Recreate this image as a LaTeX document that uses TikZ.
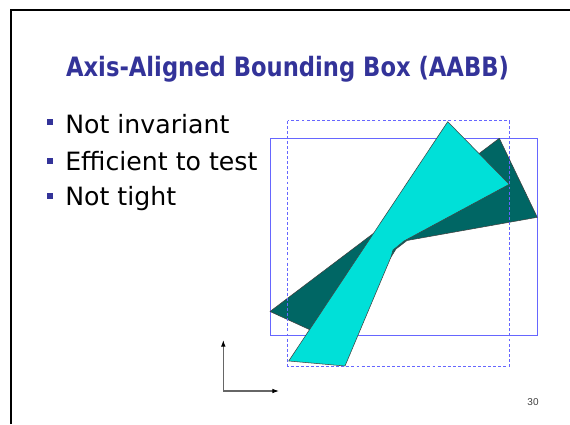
\documentclass[tikz,border=0pt]{standalone}
\usepackage{fontspec}
\setmainfont{DejaVu Sans}
\newfontfamily\titlefont[FakeStretch=0.85]{DejaVu Sans Bold}
\newfontfamily\numfont{Liberation Sans}
\usetikzlibrary{arrows.meta}
\definecolor{titleblue}{RGB}{51,51,153}
\definecolor{boxblue}{RGB}{102,102,255}
\definecolor{darkteal}{RGB}{0,102,100}
\definecolor{brightcyan}{RGB}{0,224,216}
\tikzset{
	bullet/.style={fill=titleblue, minimum size=4.5pt, inner sep=0pt},
	item/.style={anchor=base west, inner sep=0pt, font=\fontsize{18.9}{22}\selectfont},
	shape edge/.style={draw=black!75, line width=0.4pt, line join=round},
	axis/.style={black!60, line width=0.8pt, -{Latex[length=5pt, width=3.5pt, black]}}
}

\begin{document}
\begin{tikzpicture}[x=0.75pt, y=-0.75pt]
	\useasboundingbox (0,0) rectangle (570,424);

	\draw [line width=1.8pt] (11,424) -- (11,10) -- (570,10);

	\node (title) [anchor=base, inner sep=0pt, text=titleblue, font=\titlefont\fontsize{20}{24}\selectfont] at (287.5,77) {Axis-Aligned Bounding Box (AABB)};

	\node (b1) [bullet] at (49.7,122) {};
	\node (b2) [bullet] at (49.7,160.5) {};
	\node (b3) [bullet] at (49.7,196) {};
	\node (t1) [item] at (65,133) {Not invariant};
	\node (t2) [item] at (65,170) {Efficient to test};
	\node (t3) [item] at (65,205) {Not tight};

	\draw [boxblue, line width=0.7pt] (270,138.3) rectangle (537.3,335.3);

	\fill [darkteal, shape edge] (270,311.5) -- (322,335.3) -- (391,257) -- (396,249) -- (407,240.5) -- (537.3,217.3) -- (499.3,138.3) -- cycle;
	\fill [brightcyan, shape edge] (447.7,121.7) -- (509.3,184.3) -- (404,241) -- (393,250) -- (391,257) -- (345,366) -- (288.7,361) -- cycle;

	\draw [boxblue, line width=0.7pt, dash pattern=on 2.2pt off 1.6pt] (287.7,120.7) rectangle (509.3,366);

	\coordinate (o) at (223.3,391);
	\coordinate (ytip) at (223.3,340);
	\coordinate (xtip) at (279,391);
	\draw [axis] (o) -- (ytip);
	\draw [axis] (o) -- (xtip);

	\node (page) [anchor=base, inner sep=0pt, text=black!75, font=\numfont\fontsize{7.5}{9}\selectfont] at (533,405) {30};
\end{tikzpicture}
\end{document}
